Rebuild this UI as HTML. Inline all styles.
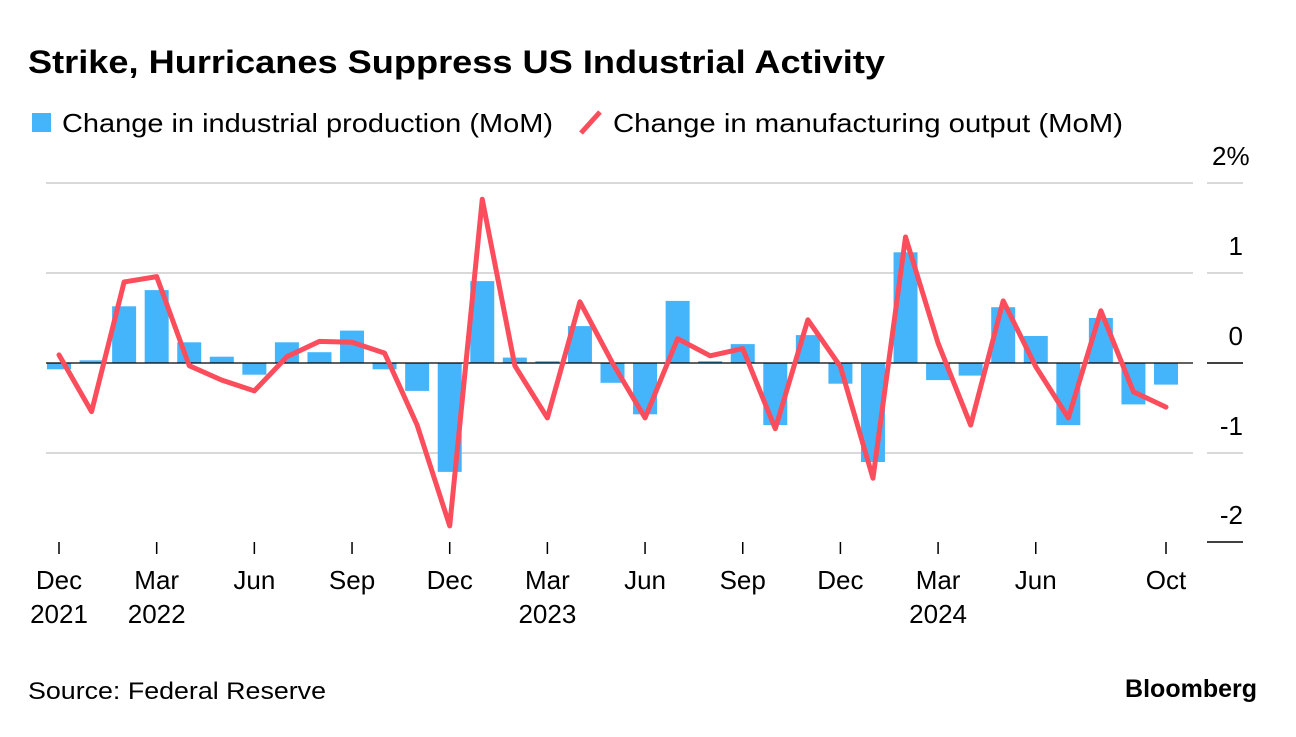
<!DOCTYPE html>
<html><head><meta charset="utf-8"><style>
body{margin:0;background:#fff;width:1296px;height:732px;overflow:hidden;font-family:"Liberation Sans",sans-serif}
svg text{font-family:"Liberation Sans",sans-serif}
</style></head><body>
<svg id="chart" width="1296" height="732" xmlns="http://www.w3.org/2000/svg">
<text x="28" y="73" font-size="32" font-weight="bold" fill="#000" textLength="857" lengthAdjust="spacingAndGlyphs">Strike, Hurricanes Suppress US Industrial Activity</text>
<g>
<rect x="32" y="113" width="19" height="19" fill="#45b5fb"/>
<text x="62" y="132" font-size="26" fill="#000" textLength="491" lengthAdjust="spacingAndGlyphs">Change in industrial production (MoM)</text>
<line x1="581" y1="133" x2="600" y2="112" stroke="#fb4d5c" stroke-width="5"/>
<text x="613" y="132" font-size="26" fill="#000" textLength="510" lengthAdjust="spacingAndGlyphs">Change in manufacturing output (MoM)</text>
</g>
<g id="grid"></g><g id="bars"></g><g id="zero"></g><g id="line"></g><g id="xaxis"></g>
<text x="28" y="699" font-size="24" fill="#000" textLength="298" lengthAdjust="spacingAndGlyphs">Source: Federal Reserve</text>
<text x="1257" y="697" font-size="25" font-weight="bold" text-anchor="end" fill="#000">Bloomberg</text>
</svg>
<script>
const months=35;
const barValues=[-0.07,0.03,0.63,0.81,0.23,0.07,-0.13,0.23,0.12,0.36,-0.07,-0.31,-1.21,0.91,0.06,0.02,0.41,-0.22,-0.57,0.69,0.02,0.21,-0.69,0.31,-0.23,-1.1,1.23,-0.19,-0.14,0.62,0.30,-0.69,0.5,-0.46,-0.24];
const lineValues=[0.09,-0.54,0.9,0.96,-0.03,-0.19,-0.31,0.07,0.24,0.23,0.11,-0.69,-1.81,1.82,-0.03,-0.61,0.68,0.0,-0.61,0.27,0.08,0.16,-0.73,0.48,-0.04,-1.28,1.4,0.22,-0.69,0.69,-0.04,-0.61,0.58,-0.32,-0.49];
const yTicks=[2,1,0,-1,-2];
const yTickLabels=["2%","1","0","-1","-2"];
const xTickIdx=[0,3,6,9,12,15,18,21,24,27,30,34];
const xTickLabels=["Dec","Mar","Jun","Sep","Dec","Mar","Jun","Sep","Dec","Mar","Jun","Oct"];
const xYearLabels=["2021","2022","","","","2023","","","","2024","",""];
const NS="http://www.w3.org/2000/svg";
const x=i=>59+i*(1166-59)/34;
const y=v=>363-v*90;
function mk(t,a,p){const e=document.createElementNS(NS,t);for(const k in a)e.setAttribute(k,a[k]);p.appendChild(e);return e;}
const grid=document.getElementById('grid');
yTicks.forEach((v,i)=>{
  const dark=v===0||v===-2;
  if(v!==-2){const g=mk('line',{x1:46,x2:1193,y1:y(v),y2:y(v),stroke:dark?'#000':'#d9d9d9','stroke-width':dark?1.3:2},v===0?document.getElementById('zero'):grid);
  
  }
  const s=mk('line',{x1:1207,x2:1243,y1:v===-2?542:y(v),y2:v===-2?542:y(v),stroke:dark?'#000':'#d9d9d9','stroke-width':dark?1.5:2},grid);
  
  
  const t=mk('text',{x:1243,y:(v===-2?542:y(v))-18,'font-size':26,'text-anchor':'end',fill:'#000'},grid);
  if(v===2){t.setAttribute('text-anchor','start');t.setAttribute('x',1212);}
  t.textContent=yTickLabels[i];
  
  
});
const bars=document.getElementById('bars');
barValues.forEach((v,i)=>{
  const r=mk('rect',{x:x(i)-12,y:Math.min(y(v),y(0)),width:24,height:Math.abs(y(v)-y(0)),fill:'#45b5fb'},bars);
  
  
});
const pl=mk('polyline',{points:lineValues.map((v,i)=>x(i)+','+y(v)).join(' '),fill:'none',stroke:'#fb4d5c','stroke-width':5,'stroke-linejoin':'round','stroke-linecap':'round'},document.getElementById('line'));


const xa=document.getElementById('xaxis');
xTickIdx.forEach((idx,i)=>{
  const tk=mk('line',{x1:x(idx),x2:x(idx),y1:542,y2:554,stroke:'#000','stroke-width':1.5},xa);
  
  
  const t=mk('text',{x:x(idx),y:589,'font-size':26,'text-anchor':'middle',fill:'#000'},xa);
  t.textContent=xTickLabels[i];
  
  
  if(xYearLabels[i]){const t2=mk('text',{x:x(idx),y:623,'font-size':26,'text-anchor':'middle',fill:'#000'},xa);
  t2.textContent=xYearLabels[i];
  
  }
});
</script>
</body></html>
